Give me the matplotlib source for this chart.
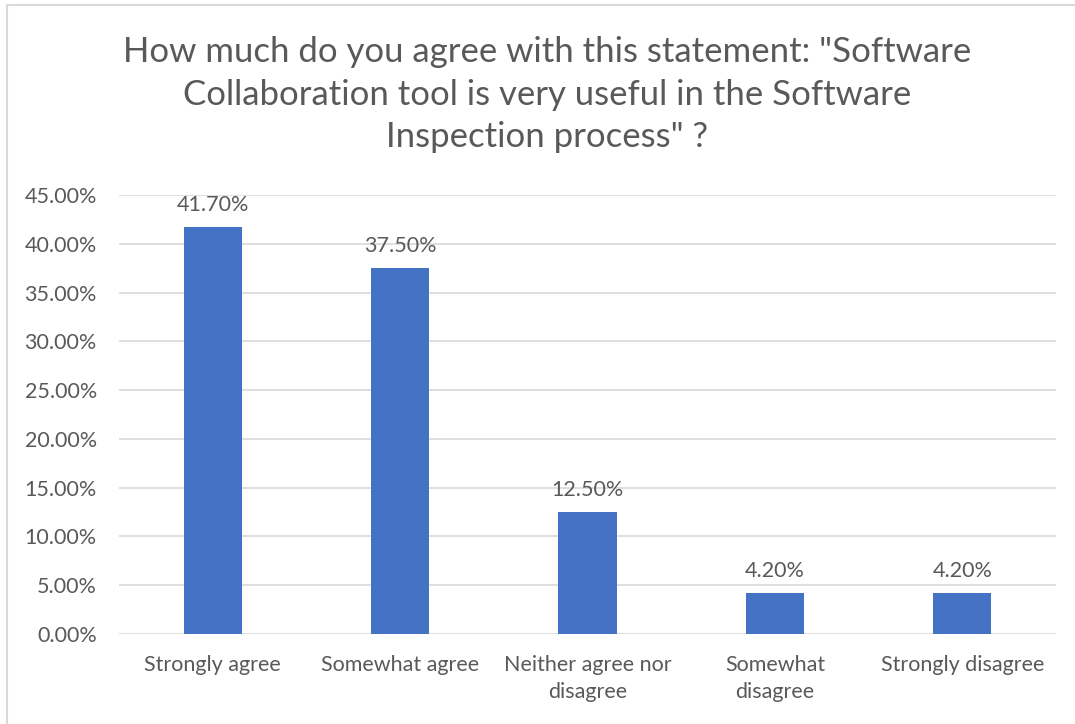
import matplotlib.pyplot as plt
from matplotlib.patches import Rectangle
from matplotlib.ticker import FuncFormatter

# Respuestas de la encuesta
categorias = ["Strongly agree", "Somewhat agree", "Neither agree nor\ndisagree",
              "Somewhat\ndisagree", "Strongly disagree"]
porcentajes = [41.70, 37.50, 12.50, 4.20, 4.20]
ticks_y = [0, 5, 10, 15, 20, 25, 30, 35, 40, 45]

gris = "#595959"
azul = "#4472C4"
plt.rcParams["font.family"] = ["Lato", "DejaVu Sans"]

fig = plt.figure(figsize=(10.75, 7.24), dpi=100)
ax = fig.add_axes([0.1107, 0.1243, 0.8716, 0.6064])

# marco del grafico (solo se ve arriba e izquierda)
fig.patches.append(Rectangle((7 / 1075, -0.1), 1.2, 1 - 5 / 724 + 0.1,
                             transform=fig.transFigure, fill=False,
                             edgecolor="#d9d9d9", linewidth=1.5))

x = range(len(categorias))
barras = ax.bar(x, porcentajes, width=0.31, color=azul, zorder=3)
for b, v in zip(barras, porcentajes):
    ax.annotate(f"{v:.2f}%", (b.get_x() + b.get_width() / 2, v),
                xytext=(0, 9), textcoords="offset points",
                ha="center", va="bottom", fontsize=15.5, color=gris)

ax.set_xlim(-0.5, len(categorias) - 0.5)
ax.set_ylim(0, 45)
ax.set_yticks(ticks_y)
ax.yaxis.set_major_formatter(FuncFormatter(lambda v, p: f"{v:.2f}%"))
ax.set_xticks(list(x))
ax.set_xticklabels(categorias, linespacing=1.45)
ax.tick_params(axis="both", length=0, labelsize=15.5, labelcolor=gris)
ax.tick_params(axis="y", pad=16)
ax.tick_params(axis="x", pad=15)
ax.grid(axis="y", color="#d9d9d9", linewidth=1.2, zorder=0)
for s in ax.spines.values():
    s.set_visible(False)

fig.text(0.509, 0.869,
         "How much do you agree with this statement: \"Software\n"
         "Collaboration tool is very useful in the Software\n"
         "Inspection process\" ?",
         ha="center", va="center", fontsize=25, color=gris, linespacing=1.4)

fig.savefig("out.png", dpi=100)
